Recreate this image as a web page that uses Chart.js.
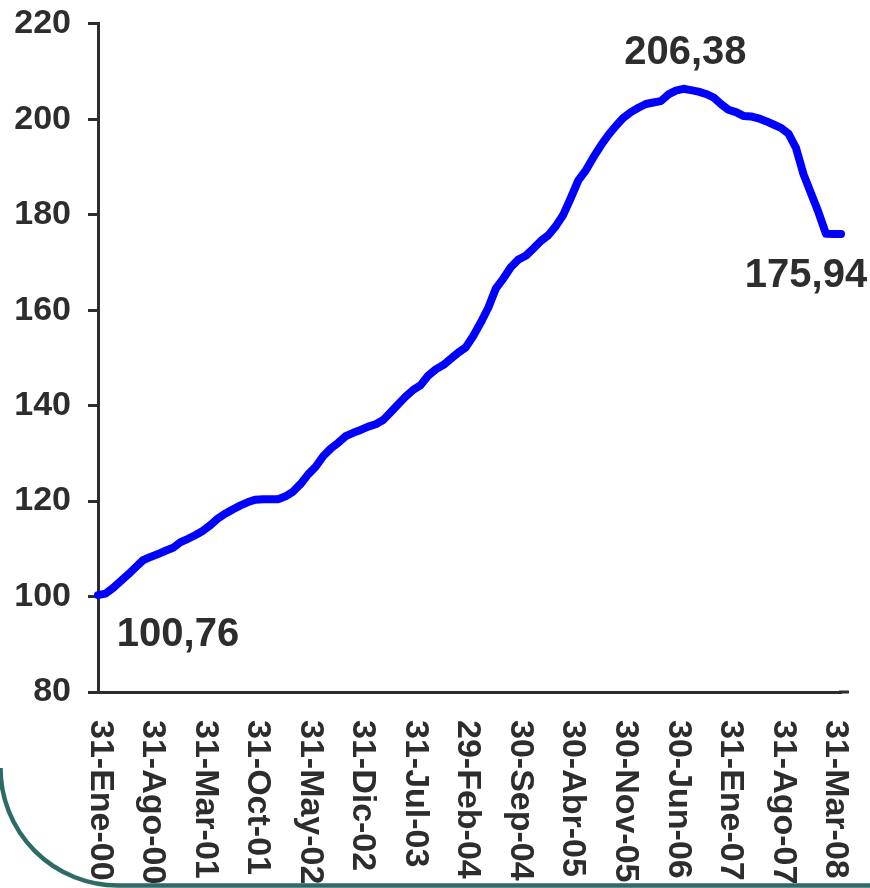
<!DOCTYPE html>
<html>
<head>
<meta charset="utf-8">
<script src="https://cdn.jsdelivr.net/npm/chart.js@4.4.0/dist/chart.umd.min.js"></script>
<style>
  html, body { margin: 0; padding: 0; background: #fff; }
  #wrap { width: 870px; height: 888px; }
</style>
</head>
<body>
<div id="wrap"><canvas id="chart" width="870" height="888"></canvas></div>
<script>
// tick labels, one every 7 months
const tickLabels = [
  '31-Ene-00', '31-Ago-00', '31-Mar-01', '31-Oct-01', '31-May-02',
  '31-Dic-02', '31-Jul-03', '29-Feb-04', '30-Sep-04', '30-Abr-05',
  '30-Nov-05', '30-Jun-06', '31-Ene-07', '31-Ago-07', '31-Mar-08'
];

// monthly index, Jan-00 .. Apr-08
const values = [
  100.3, 100.6, 101.8, 103.2, 104.6, 106.1, 107.6, 108.3, 108.9, 109.6,
  110.2, 111.4, 112.1, 112.9, 113.8, 115.0, 116.4, 117.4, 118.3, 119.1,
  119.8, 120.3, 120.4, 120.4, 120.4, 121.0, 122.0, 123.6, 125.6, 127.2,
  129.4, 131.0, 132.2, 133.6, 134.3, 134.9, 135.6, 136.1, 137.0, 138.6,
  140.3, 141.9, 143.3, 144.3, 146.3, 147.6, 148.5, 149.8, 151.1, 152.2,
  154.6, 157.4, 160.5, 164.5, 166.6, 169.0, 170.6, 171.4, 172.9, 174.5,
  175.7, 177.6, 180.0, 183.5, 187.2, 189.3, 192.0, 194.5, 196.7, 198.6,
  200.3, 201.5, 202.4, 203.2, 203.5, 203.8, 205.2, 206.0, 206.38, 206.1,
  205.8, 205.3, 204.6, 203.2, 202.0, 201.5, 200.7, 200.6, 200.2, 199.6,
  198.9, 198.2, 197.0, 194.0, 188.5, 184.5, 180.5, 176.0, 175.94, 175.94
];

const noteText = ['100,76', '206,38', '175,94'];
const noteIndex = [0, 78, 99];
const noteOffset = [[80, 40], [2, -36], [-35, 42]];

const categories = values.map((v, i) => i % 7 === 0 ? tickLabels[i / 7] : '');

const FONT = "'Liberation Sans', Arial, sans-serif";
const INK = '#2d2d2d';

Chart.defaults.font.family = FONT;
Chart.defaults.font.weight = 'bold';

const extras = {
  id: 'extras',
  afterDraw(chart) {
    const ctx = chart.ctx;
    const xs = chart.scales.x;
    const ys = chart.scales.y;
    const area = chart.chartArea;
    ctx.save();

    // axis line runs a bit past the last point
    ctx.strokeStyle = INK;
    ctx.lineWidth = 3;
    ctx.beginPath();
    ctx.moveTo(area.right - 2, area.bottom);
    ctx.lineTo(area.right + 8, area.bottom);
    ctx.stroke();

    // vertical category labels, reading top to bottom
    ctx.fillStyle = INK;
    ctx.font = 'bold 34px ' + FONT;
    ctx.textAlign = 'left';
    ctx.textBaseline = 'middle';
    categories.forEach((lab, i) => {
      if (!lab) return;
      const px = xs.getPixelForValue(i) + 2;
      ctx.save();
      ctx.translate(px, area.bottom + 28);
      ctx.rotate(Math.PI / 2);
      ctx.fillText(lab, 0, 0);
      ctx.restore();
    });

    // value notes
    ctx.font = 'bold 40px ' + FONT;
    ctx.textAlign = 'center';
    noteIndex.forEach((idx, k) => {
      const px = xs.getPixelForValue(idx);
      const py = ys.getPixelForValue(values[idx]);
      ctx.fillText(noteText[k], px + noteOffset[k][0], py + noteOffset[k][1]);
    });

    // frame corner at the bottom
    ctx.strokeStyle = '#2e6b67';
    ctx.lineWidth = 4.5;
    ctx.beginPath();
    ctx.arc(118, 768, 117.5, Math.PI, Math.PI / 2, true);
    ctx.lineTo(chart.width, 885.5);
    ctx.stroke();

    ctx.restore();
  }
};

new Chart(document.getElementById('chart'), {
  type: 'line',
  data: {
    labels: categories,
    datasets: [{
      data: values,
      borderColor: '#0000ff',
      borderWidth: 8,
      pointRadius: 0,
      tension: 0,
      borderCapStyle: 'round',
      borderJoinStyle: 'round',
      clip: false
    }]
  },
  options: {
    responsive: false,
    devicePixelRatio: 1,
    animation: false,
    layout: { padding: { top: 21, right: 29, bottom: 0, left: 0 } },
    plugins: { legend: { display: false }, tooltip: { enabled: false } },
    scales: {
      x: {
        grid: { display: false },
        border: { display: true, color: INK, width: 3 },
        ticks: { display: false },
        afterFit(s) { s.height = 196; }
      },
      y: {
        min: 80,
        max: 220,
        ticks: {
          stepSize: 20, color: INK, padding: 17,
          font: { family: FONT, size: 34, weight: 700, lineHeight: 0.4 }
        },
        grid: { drawOnChartArea: false, drawTicks: true, tickLength: 10, tickColor: INK, tickWidth: 3 },
        border: { display: true, color: INK, width: 3 },
        afterFit(s) { s.width = 98; }
      }
    }
  },
  plugins: [extras]
});
</script>
</body>
</html>
